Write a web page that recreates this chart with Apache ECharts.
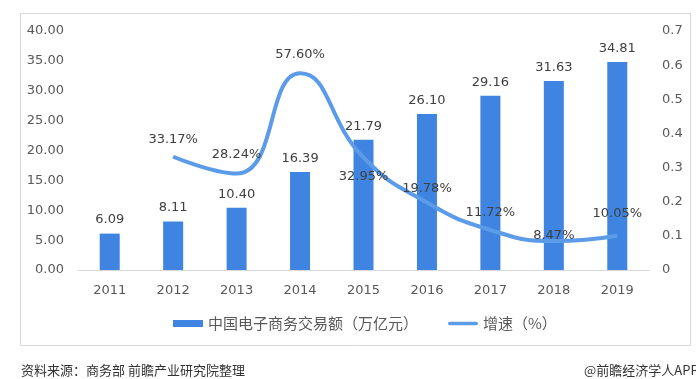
<!DOCTYPE html>
<html><head><meta charset="utf-8">
<script src="https://cdn.jsdelivr.net/npm/echarts@6/dist/echarts.min.js"></script>
<style>html,body{margin:0;padding:0;background:#fff}#c{width:696px;height:379px}</style>
</head><body><div id="c"></div>
<script>
const categories = ['2011','2012','2013','2014','2015','2016','2017','2018','2019'];
const tradeValues = [6.09, 8.11, 10.40, 16.39, 21.79, 26.10, 29.16, 31.63, 34.81];
const growthValues = [null, 0.3317, 0.2824, 0.5760, 0.3295, 0.1978, 0.1172, 0.0847, 0.1005];
const growthLabels = ['', '33.17%', '28.24%', '57.60%', '32.95%', '19.78%', '11.72%', '8.47%', '10.05%'];
const leftTicks = ['0.00','5.00','10.00','15.00','20.00','25.00','30.00','35.00','40.00'];

const FONT = '"DejaVu Sans", "Noto Sans CJK SC", sans-serif';
const CJK = '"Noto Sans CJK SC", sans-serif';
const labelOffsets = [null, {d:10,pos:'top'}, {d:12,pos:'top'}, {d:12,pos:'top'}, {d:12,pos:'bottom',dx:6}, {d:7,pos:'top'}, {d:10,pos:'top'}, {d:-2,pos:'top'}, {d:15,pos:'top'}];

const chart = echarts.init(document.getElementById('c'));
chart.setOption({
  animation:false,
  textStyle:{fontFamily:FONT},
  graphic:[
    {type:'rect', shape:{x:20.5,y:13.5,width:670,height:332}, style:{fill:'none',stroke:'#d9d9d9',lineWidth:1}, z:-1},
    {type:'text', left:21, top:364, style:{text:'资料来源：商务部 前瞻产业研究院整理', font:'13px '+CJK, fill:'#333'}},
    {type:'text', left:584, top:364, style:{text:'@前瞻经济学人APP', font:'13px '+CJK, fill:'#333'}}
  ],
  legend:{
    top:311, left:168, itemGap:30, itemWidth:30, itemHeight:7,
    textStyle:{fontFamily:CJK, fontSize:15, color:'#595959'},
    data:[{name:'中国电子商务交易额（万亿元）', icon:'rect'},
          {name:'增速（%）', icon:'path://M2,0 L32,0 A2,2 0 0 1 32,4 L2,4 A2,2 0 0 1 2,0 Z'}]
  },
  grid:{left:78, right:47, top:31, bottom:109},
  xAxis:{
    type:'category', data:categories,
    axisLine:{lineStyle:{color:'#d9d9d9'}}, axisTick:{show:false},
    axisLabel:{color:'#595959', fontSize:13, margin:14}
  },
  yAxis:[
    {type:'value', min:0, max:40, interval:5, splitLine:{show:false},
     axisLabel:{color:'#595959', fontSize:13, margin:14, formatter:(v)=>leftTicks[Math.round(v/5)]}},
    {type:'value', min:0, max:0.7, interval:0.1, splitLine:{show:false},
     axisLabel:{color:'#595959', fontSize:13, margin:13, formatter:(v)=> v===0?'0':v.toFixed(1)}}
  ],
  series:[
    {name:'中国电子商务交易额（万亿元）', type:'bar', data:tradeValues, barWidth:20,
     itemStyle:{color:'#3F84E0'},
     label:{show:true, position:'top', distance:7, color:'#404040', fontSize:13, formatter:(p)=>p.value.toFixed(2)}},
    {name:'增速（%）', type:'line', yAxisIndex:1, smooth:true, showSymbol:true, symbol:'circle', symbolSize:1,
     lineStyle:{color:'#5B9BE8', width:4}, itemStyle:{color:'#5B9BE8'},
     data:growthValues.map((v,i)=>{
       if(v===null) return null;
       const o = labelOffsets[i];
       return {value:v, label:{show:true, position:o.pos, distance:o.d, offset:[o.dx||0,0],
         color:'#404040', fontSize:13, formatter:growthLabels[i]}};
     }),
     label:{show:true}, labelLayout:{hideOverlap:false}, z:5}
  ]
});
</script></body></html>
